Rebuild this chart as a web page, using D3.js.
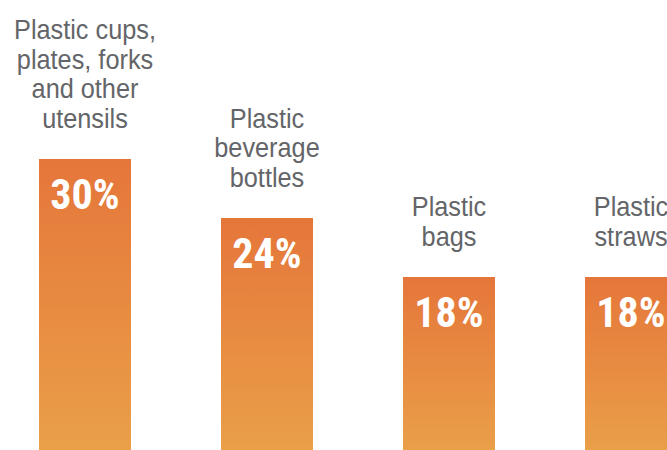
<!DOCTYPE html>
<html>
<head>
<meta charset="utf-8">
<script src="https://cdn.jsdelivr.net/npm/d3@7"></script>
<style>
  html, body { margin: 0; padding: 0; background: #fff; }
  svg { display: block; }
</style>
</head>
<body>
<svg id="chart" width="667" height="450"></svg>
<script>
// Share of items found, by category
const categories = ["cups", "bottles", "bags", "straws"];
const categoryLines = [
  ["Plastic cups,", "plates, forks", "and other", "utensils"],
  ["Plastic", "beverage", "bottles"],
  ["Plastic", "bags"],
  ["Plastic", "straws"]
];
const values = [30, 24, 18, 18];
const valueLabels = ["30%", "24%", "18%", "18%"];

const svg = d3.select("#chart");

const x = d3.scaleBand()
  .domain(categories)
  .range([39, 677])
  .paddingInner(90 / 182)
  .paddingOuter(0);

const y = d3.scaleLinear()
  .domain([0, 30])
  .range([454, 159]);

// Per-bar vertical gradient, darker orange at the top
const defs = svg.append("defs");
const grad = defs.append("linearGradient")
  .attr("id", "barGrad")
  .attr("x1", 0).attr("y1", 0)
  .attr("x2", 0).attr("y2", 1);
grad.append("stop").attr("offset", "0%").attr("stop-color", "#e5763a");
grad.append("stop").attr("offset", "100%").attr("stop-color", "#eaa049");

const data = categories.map((c, i) => ({
  key: c, value: values[i], label: valueLabels[i], lines: categoryLines[i]
}));

const g = svg.selectAll("g.bar")
  .data(data)
  .join("g")
  .attr("class", "bar");

g.append("rect")
  .attr("x", d => x(d.key))
  .attr("y", d => y(d.value))
  .attr("width", x.bandwidth())
  .attr("height", d => y(0) - y(d.value))
  .attr("fill", "url(#barGrad)");

// Value labels inside the bars
g.append("text")
  .attr("x", d => x(d.key) + x.bandwidth() / 2)
  .attr("y", d => y(d.value) + 50)
  .attr("text-anchor", "middle")
  .attr("fill", "#ffffff")
  .style("font-family", "'Liberation Sans Narrow', 'Arial Narrow', 'Roboto Condensed', sans-serif")
  .style("font-weight", "bold")
  .style("font-size", "42px")
  .text(d => d.label);

// Category labels stacked above each bar, slightly condensed
const lineH = 29.5;
g.each(function (d) {
  const n = d.lines.length;
  const cx = x(d.key) + x.bandwidth() / 2;
  const lastBase = y(d.value) - 31;
  const t = d3.select(this).append("text")
    .attr("text-anchor", "middle")
    .attr("transform", `translate(${cx},0) scale(0.92,1)`)
    .attr("fill", "#636568")
    .style("font-family", "'Liberation Sans', Arial, sans-serif")
    .style("font-size", "27.5px");
  d.lines.forEach((line, j) => {
    t.append("tspan")
      .attr("x", 0)
      .attr("y", lastBase - (n - 1 - j) * lineH)
      .text(line);
  });
});
</script>
</body>
</html>
